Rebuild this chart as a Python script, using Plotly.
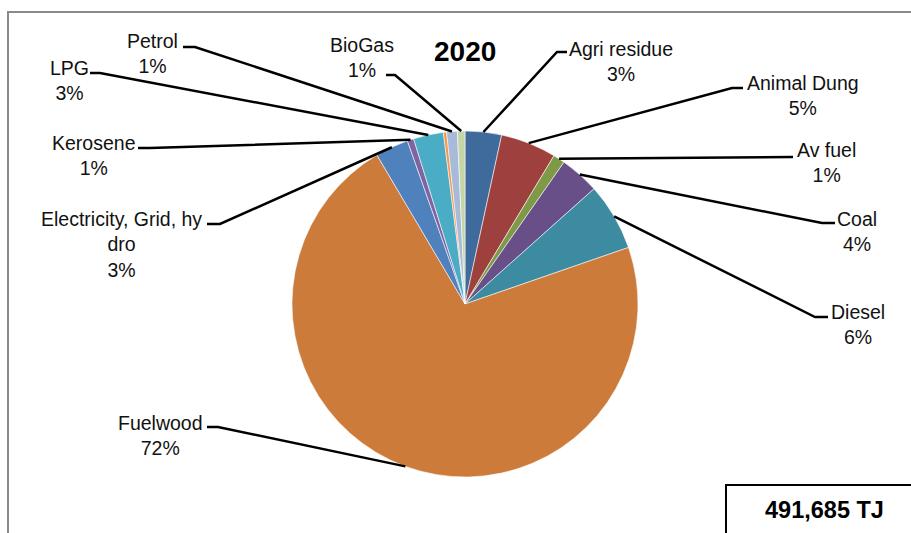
import math
import plotly.graph_objects as go

# Final energy consumption by fuel, 2020 (shares of total, %)
categories = ["Agri residue", "Animal Dung", "Av fuel", "Coal", "Diesel", "Fuelwood",
              "Electricity, Grid, hydro", "Kerosene", "LPG", "Other", "Petrol", "BioGas"]
shares = [3.4, 5.2, 1.1, 3.7, 6.3, 71.8, 3.1, 0.6, 2.8, 0.3, 1.0, 0.7]
total_tj = 491685
year_label = "2020"

colors = ["#3F6A9C", "#9E413E", "#7E9A47", "#684F87", "#3C8BA1", "#CC7B3A",
          "#4F81BD", "#8064A2", "#4BACC6", "#F79646", "#A8BAD9", "#C5D6A6"]

W, H = 911, 533
CX, CY, R = 465, 304, 173


def px(x):
    return x / W


def py(y):
    return 1 - y / H


# label placement: (centre x, middle y of text block, leader knee points from the text side)
label_layout = {
    "Agri residue": (621, 61, [(567, 52), (557, 52)]),
    "Animal Dung": (803, 96, [(743, 88), (732, 88)]),
    "Av fuel": (826, 163, [(793, 157)]),
    "Coal": (857, 231, [(835, 223), (822, 223)]),
    "Diesel": (858, 324, [(828, 317), (815, 317)]),
    "Fuelwood": (160, 435, [(207, 427), (218, 427)]),
    "Electricity, Grid, hydro": (122, 244, [(207, 224), (220, 224)]),
    "Kerosene": (93, 155, [(138, 148), (150, 148)]),
    "LPG": (69, 80, [(90, 73), (100, 73)]),
    "Petrol": (152, 54, [(183, 47), (195, 47)]),
    "BioGas": (362, 57, [(386, 75), (395, 75)]),
}
wrapped_names = {"Electricity, Grid, hydro": "Electricity, Grid, hy<br>dro"}

FONT = "Liberation Sans"

fig = go.Figure(go.Pie(
    labels=categories,
    values=shares,
    sort=False,
    direction="clockwise",
    rotation=0,
    textinfo="none",
    hoverinfo="label+percent",
    marker=dict(colors=colors, line=dict(color="rgba(255,255,255,0.7)", width=0.8)),
    domain=dict(x=[px(CX - R), px(CX + R)], y=[py(CY + R), py(CY - R)]),
    showlegend=False,
))

total = sum(shares)
shapes = []
annotations = []
acc = 0.0
for name, v in zip(categories, shares):
    mid = math.radians((acc + v / 2) / total * 360)
    acc += v
    if name not in label_layout:
        continue
    lx, ly, knees = label_layout[name]
    ex = CX + R * math.sin(mid)
    ey = CY - R * math.cos(mid)
    pts = knees + [(ex, ey)]
    path = "M " + " L ".join(f"{px(x):.5f},{py(y):.5f}" for x, y in pts)
    shapes.append(dict(type="path", xref="paper", yref="paper", path=path,
                       line=dict(color="black", width=2.5)))
    pct = round(v / total * 100)
    annotations.append(dict(
        x=px(lx), y=py(ly), xref="paper", yref="paper",
        xanchor="center", yanchor="middle", align="center", showarrow=False,
        text=f"{wrapped_names.get(name, name)}<br>{pct}%",
        font=dict(family=FONT, size=19.5, color="#111111"),
    ))

annotations.append(dict(
    x=px(465), y=py(52), xref="paper", yref="paper", xanchor="center", yanchor="middle",
    showarrow=False, text=f"<b>{year_label}</b>",
    font=dict(family=FONT, size=28, color="black"),
))
annotations.append(dict(
    x=px(824), y=py(510), xref="paper", yref="paper", xanchor="center", yanchor="middle",
    showarrow=False, text=f"<b>{total_tj:,} TJ</b>",
    font=dict(family=FONT, size=23.5, color="black"),
))

# chart frame and total box
shapes.append(dict(type="rect", xref="paper", yref="paper",
                   x0=px(8), y0=py(12), x1=px(950), y1=py(580),
                   line=dict(color="#8A8A8A", width=2)))
shapes.append(dict(type="rect", xref="paper", yref="paper",
                   x0=px(726), y0=py(485), x1=px(950), y1=py(580),
                   line=dict(color="black", width=2)))

fig.update_layout(
    width=W, height=H,
    margin=dict(l=0, r=0, t=0, b=0),
    paper_bgcolor="white", plot_bgcolor="white",
    shapes=shapes, annotations=annotations,
)

fig.write_html("out.html")
